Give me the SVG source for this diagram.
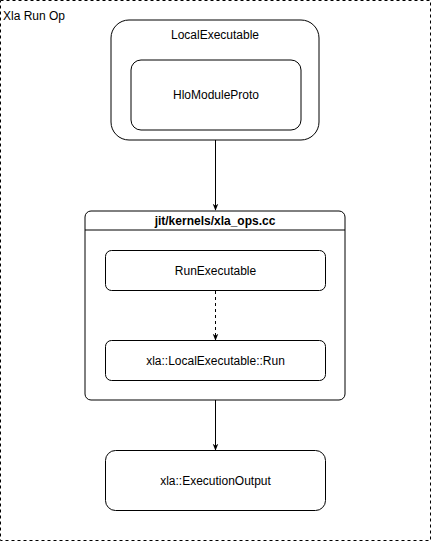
<svg xmlns="http://www.w3.org/2000/svg" width="431" height="541" viewBox="0 0 431 541">
<defs>
<style>
.box{fill:#fff;stroke:#000;stroke-width:1}
.t{font-family:"Liberation Sans",Arial,sans-serif;font-size:12px;fill:#000;text-anchor:middle}
.edge{stroke:#000;stroke-width:1;fill:none}
</style>
<marker id="arr" viewBox="0 0 10 10" refX="9" refY="5" markerWidth="7" markerHeight="7" markerUnits="userSpaceOnUse" orient="auto">
<path d="M0,1 L10,5 L0,9 L3,5 Z" fill="#000"/>
</marker>
</defs>
<rect width="431" height="541" fill="#fff"/>
<g id="xla-run-op">
<rect x="0.5" y="0.5" width="430" height="540" fill="#fff" stroke="#000" stroke-dasharray="3,3"/>
<text x="3" y="20" font-family="Liberation Sans,Arial,sans-serif" font-size="12">Xla Run Op</text>
</g>
<g id="local-executable">
<rect class="box" x="111" y="20" width="208" height="120" rx="18"/>
<text class="t" x="215" y="39">LocalExecutable</text>
</g>
<g id="hlo-module-proto">
<rect class="box" x="131" y="60" width="170" height="70" rx="10"/>
<text class="t" x="216" y="99">HloModuleProto</text>
</g>
<g id="xla-ops">
<rect class="box" x="85" y="211" width="260" height="189" rx="6"/>
<line x1="85" y1="230" x2="345" y2="230" stroke="#000"/>
<text class="t" x="215" y="225" font-weight="bold">jit/kernels/xla_ops.cc</text>
</g>
<g id="run-executable">
<rect class="box" x="105.5" y="250.5" width="220" height="40" rx="6"/>
<text class="t" x="215.5" y="275">RunExecutable</text>
</g>
<g id="local-executable-run">
<rect class="box" x="105.5" y="340.5" width="220" height="40" rx="6"/>
<text class="t" x="215.5" y="365">xla::LocalExecutable::Run</text>
</g>
<g id="execution-output">
<rect class="box" x="105.5" y="450.5" width="220" height="60" rx="10"/>
<text class="t" x="215.5" y="485">xla::ExecutionOutput</text>
</g>
<g id="connectors">
<line class="edge" x1="215.5" y1="140" x2="215.5" y2="210" marker-end="url(#arr)"/>
<line class="edge" x1="215.5" y1="291" x2="215.5" y2="340" stroke-dasharray="3,3" marker-end="url(#arr)"/>
<line class="edge" x1="215.5" y1="400" x2="215.5" y2="450" marker-end="url(#arr)"/>
</g>
</svg>
